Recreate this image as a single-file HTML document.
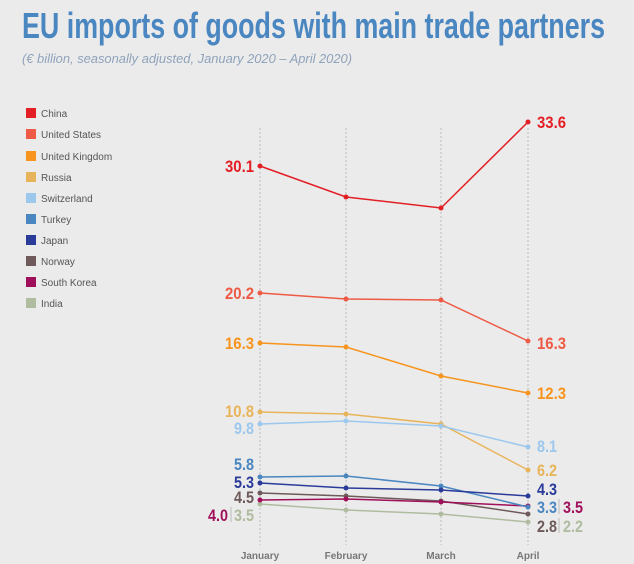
<!DOCTYPE html>
<html><head><meta charset="utf-8"><style>
html,body{margin:0;padding:0;background:#ebebeb;}
svg{display:block;font-family:"Liberation Sans Narrow","Liberation Sans",sans-serif;}
.l{font-size:10px;fill:#555;}
.v{font-size:17px;font-weight:bold;}
.m{font-size:10px;fill:#777;font-weight:bold;}
</style></head><body>
<svg width="634" height="564" viewBox="0 0 634 564">
<rect width="634" height="564" fill="#ebebeb"/>
<text x="22" y="38" font-size="36" font-weight="bold" fill="#4a86c0" textLength="583" lengthAdjust="spacingAndGlyphs">EU imports of goods with main trade partners</text>
<text x="22" y="63" font-size="13" font-style="italic" fill="#8fa3bb" textLength="330" lengthAdjust="spacingAndGlyphs">(€ billion, seasonally adjusted, January 2020 – April 2020)</text>
<g stroke="#bbb" stroke-width="1" stroke-dasharray="2,2">
<line x1="260" y1="128" x2="260" y2="545"/><line x1="346" y1="128" x2="346" y2="545"/>
<line x1="441" y1="128" x2="441" y2="545"/><line x1="528" y1="128" x2="528" y2="545"/>
</g>
<g>
<rect x="26" y="108" width="10" height="10" fill="#e31e24"/><text class="l" x="41" y="117">China</text>
<rect x="26" y="129" width="10" height="10" fill="#ee5a45"/><text class="l" x="41" y="138">United States</text>
<rect x="26" y="151" width="10" height="10" fill="#f7941d"/><text class="l" x="41" y="160">United Kingdom</text>
<rect x="26" y="172" width="10" height="10" fill="#e8b45a"/><text class="l" x="41" y="181">Russia</text>
<rect x="26" y="193" width="10" height="10" fill="#9cc8ee"/><text class="l" x="41" y="202">Switzerland</text>
<rect x="26" y="214" width="10" height="10" fill="#4a86c0"/><text class="l" x="41" y="223">Turkey</text>
<rect x="26" y="235" width="10" height="10" fill="#2a3b9a"/><text class="l" x="41" y="244">Japan</text>
<rect x="26" y="256" width="10" height="10" fill="#6e5a5a"/><text class="l" x="41" y="265">Norway</text>
<rect x="26" y="277" width="10" height="10" fill="#a0105a"/><text class="l" x="41" y="286">South Korea</text>
<rect x="26" y="298" width="10" height="10" fill="#b0bca0"/><text class="l" x="41" y="307">India</text>
</g>
<g fill="none" stroke-width="1.5">
<polyline stroke="#e31e24" points="260,166 346,197 441,208 528,122"/>
<polyline stroke="#ee5a45" points="260,293 346,299 441,300 528,341"/>
<polyline stroke="#f7941d" points="260,343 346,347 441,376 528,393"/>
<polyline stroke="#e8b45a" points="260,412 346,414 441,424 528,470"/>
<polyline stroke="#9cc8ee" points="260,424 346,421 441,426 528,447"/>
<polyline stroke="#b0bca0" points="260,504 346,510 441,514 528,522"/>
<polyline stroke="#6e5a5a" points="260,493 346,496 441,501 528,514"/>
<polyline stroke="#a0105a" points="260,500 346,499 441,502 528,506"/>
<polyline stroke="#4a86c0" points="260,477 346,476 441,486 528,507"/>
<polyline stroke="#2a3b9a" points="260,483 346,488 441,490 528,496"/>
</g>
<g>
<g fill="#e31e24"><circle cx="260" cy="166" r="2.5"/><circle cx="346" cy="197" r="2.5"/><circle cx="441" cy="208" r="2.5"/><circle cx="528" cy="122" r="2.5"/></g>
<g fill="#ee5a45"><circle cx="260" cy="293" r="2.5"/><circle cx="346" cy="299" r="2.5"/><circle cx="441" cy="300" r="2.5"/><circle cx="528" cy="341" r="2.5"/></g>
<g fill="#f7941d"><circle cx="260" cy="343" r="2.5"/><circle cx="346" cy="347" r="2.5"/><circle cx="441" cy="376" r="2.5"/><circle cx="528" cy="393" r="2.5"/></g>
<g fill="#e8b45a"><circle cx="260" cy="412" r="2.5"/><circle cx="346" cy="414" r="2.5"/><circle cx="441" cy="424" r="2.5"/><circle cx="528" cy="470" r="2.5"/></g>
<g fill="#9cc8ee"><circle cx="260" cy="424" r="2.5"/><circle cx="346" cy="421" r="2.5"/><circle cx="441" cy="426" r="2.5"/><circle cx="528" cy="447" r="2.5"/></g>
<g fill="#b0bca0"><circle cx="260" cy="504" r="2.5"/><circle cx="346" cy="510" r="2.5"/><circle cx="441" cy="514" r="2.5"/><circle cx="528" cy="522" r="2.5"/></g>
<g fill="#6e5a5a"><circle cx="260" cy="493" r="2.5"/><circle cx="346" cy="496" r="2.5"/><circle cx="441" cy="501" r="2.5"/><circle cx="528" cy="514" r="2.5"/></g>
<g fill="#a0105a"><circle cx="260" cy="500" r="2.5"/><circle cx="346" cy="499" r="2.5"/><circle cx="441" cy="502" r="2.5"/><circle cx="528" cy="506" r="2.5"/></g>
<g fill="#4a86c0"><circle cx="260" cy="477" r="2.5"/><circle cx="346" cy="476" r="2.5"/><circle cx="441" cy="486" r="2.5"/><circle cx="528" cy="507" r="2.5"/></g>
<g fill="#2a3b9a"><circle cx="260" cy="483" r="2.5"/><circle cx="346" cy="488" r="2.5"/><circle cx="441" cy="490" r="2.5"/><circle cx="528" cy="496" r="2.5"/></g>
</g>
<g class="v" text-anchor="end">
<text x="254" y="172" fill="#e31e24" textLength="29" lengthAdjust="spacingAndGlyphs">30.1</text>
<text x="254" y="299" fill="#ee5a45" textLength="29" lengthAdjust="spacingAndGlyphs">20.2</text>
<text x="254" y="349" fill="#f7941d" textLength="29" lengthAdjust="spacingAndGlyphs">16.3</text>
<text x="254" y="417" fill="#e8b45a" textLength="29" lengthAdjust="spacingAndGlyphs">10.8</text>
<text x="254" y="434" fill="#9cc8ee" textLength="20" lengthAdjust="spacingAndGlyphs">9.8</text>
<text x="254" y="470" fill="#4a86c0" textLength="20" lengthAdjust="spacingAndGlyphs">5.8</text>
<text x="254" y="488" fill="#2a3b9a" textLength="20" lengthAdjust="spacingAndGlyphs">5.3</text>
<text x="254" y="503" fill="#6e5a5a" textLength="20" lengthAdjust="spacingAndGlyphs">4.5</text>
<text x="254" y="521" fill="#b0bca0" textLength="20" lengthAdjust="spacingAndGlyphs">3.5</text>
<text x="228" y="521" fill="#a0105a" textLength="20" lengthAdjust="spacingAndGlyphs">4.0</text>
</g>
<line x1="231" y1="507" x2="231" y2="522" stroke="#bbb"/>
<g class="v">
<text x="537" y="128" fill="#e31e24" textLength="29" lengthAdjust="spacingAndGlyphs">33.6</text>
<text x="537" y="349" fill="#ee5a45" textLength="29" lengthAdjust="spacingAndGlyphs">16.3</text>
<text x="537" y="399" fill="#f7941d" textLength="29" lengthAdjust="spacingAndGlyphs">12.3</text>
<text x="537" y="452" fill="#9cc8ee" textLength="20" lengthAdjust="spacingAndGlyphs">8.1</text>
<text x="537" y="476" fill="#e8b45a" textLength="20" lengthAdjust="spacingAndGlyphs">6.2</text>
<text x="537" y="495" fill="#2a3b9a" textLength="20" lengthAdjust="spacingAndGlyphs">4.3</text>
<text x="537" y="513" fill="#4a86c0" textLength="20" lengthAdjust="spacingAndGlyphs">3.3</text>
<text x="563" y="513" fill="#a0105a" textLength="20" lengthAdjust="spacingAndGlyphs">3.5</text>
<text x="537" y="532" fill="#6e5a5a" textLength="20" lengthAdjust="spacingAndGlyphs">2.8</text>
<text x="563" y="532" fill="#b0bca0" textLength="20" lengthAdjust="spacingAndGlyphs">2.2</text>
</g>
<line x1="559" y1="499" x2="559" y2="514" stroke="#bbb"/>
<line x1="559" y1="518" x2="559" y2="533" stroke="#bbb"/>
<g class="m" text-anchor="middle">
<text x="260" y="559">January</text><text x="346" y="559">February</text>
<text x="441" y="559">March</text><text x="528" y="559">April</text>
</g>
</svg>
</body></html>
